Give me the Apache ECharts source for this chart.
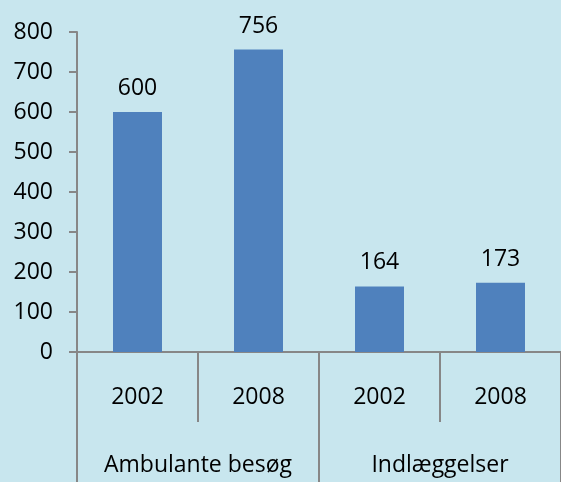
<!DOCTYPE html>
<html>
<head>
<meta charset="utf-8">
<script src="https://cdn.jsdelivr.net/npm/echarts@6/dist/echarts.min.js"></script>
<style>
html, body { margin: 0; padding: 0; background: #c8e6ee; }
#chart { width: 561px; height: 482px; }
</style>
</head>
<body>
<div id="chart"></div>
<script>
const years = ['2002', '2008', '2002', '2008']
const groups = ['Ambulante besøg', 'Indlæggelser']
const visits = [600, 756, 164, 173]
const yTicks = { min: 0, max: 800, interval: 100 }

const axisColor = '#878787'
const font = '"Open Sans", "Noto Sans", sans-serif'

const myChart = echarts.init(document.getElementById('chart'))
const option = {
  backgroundColor: '#c8e6ee',
  animation: false,
  grid: { left: 77, right: 0, top: 32, bottom: 130, containLabel: false, outerBoundsMode: 'none' },
  xAxis: [
    {
      type: 'category',
      data: years,
      position: 'bottom',
      axisLine: { show: true, lineStyle: { color: axisColor, width: 2 } },
      axisTick: { show: true, interval: 0, length: 70, lineStyle: { color: axisColor, width: 2 } },
      axisLabel: { interval: 0, margin: 34, color: '#000', fontFamily: font, fontSize: 23 }
    },
    {
      type: 'category',
      data: groups,
      position: 'bottom',
      axisLine: { show: false },
      axisTick: { show: true, interval: 0, length: 130, lineStyle: { color: axisColor, width: 2 } },
      axisLabel: { interval: 0, margin: 102, color: '#000', fontFamily: font, fontSize: 23 }
    }
  ],
  yAxis: {
    type: 'value',
    min: yTicks.min,
    max: yTicks.max,
    interval: yTicks.interval,
    axisLine: { show: true, lineStyle: { color: axisColor, width: 2 } },
    axisTick: { show: true, length: 8, lineStyle: { color: axisColor, width: 2 } },
    splitLine: { show: false },
    axisLabel: { margin: 24, color: '#000', fontFamily: font, fontSize: 23 }
  },
  series: [
    {
      type: 'bar',
      xAxisIndex: 0,
      data: visits,
      barWidth: 49,
      itemStyle: { color: '#4f81bd' },
      label: {
        show: true,
        position: 'top',
        distance: 12,
        color: '#000',
        fontFamily: font,
        fontSize: 23
      }
    }
  ]
}
myChart.setOption(option)
</script>
</body>
</html>
